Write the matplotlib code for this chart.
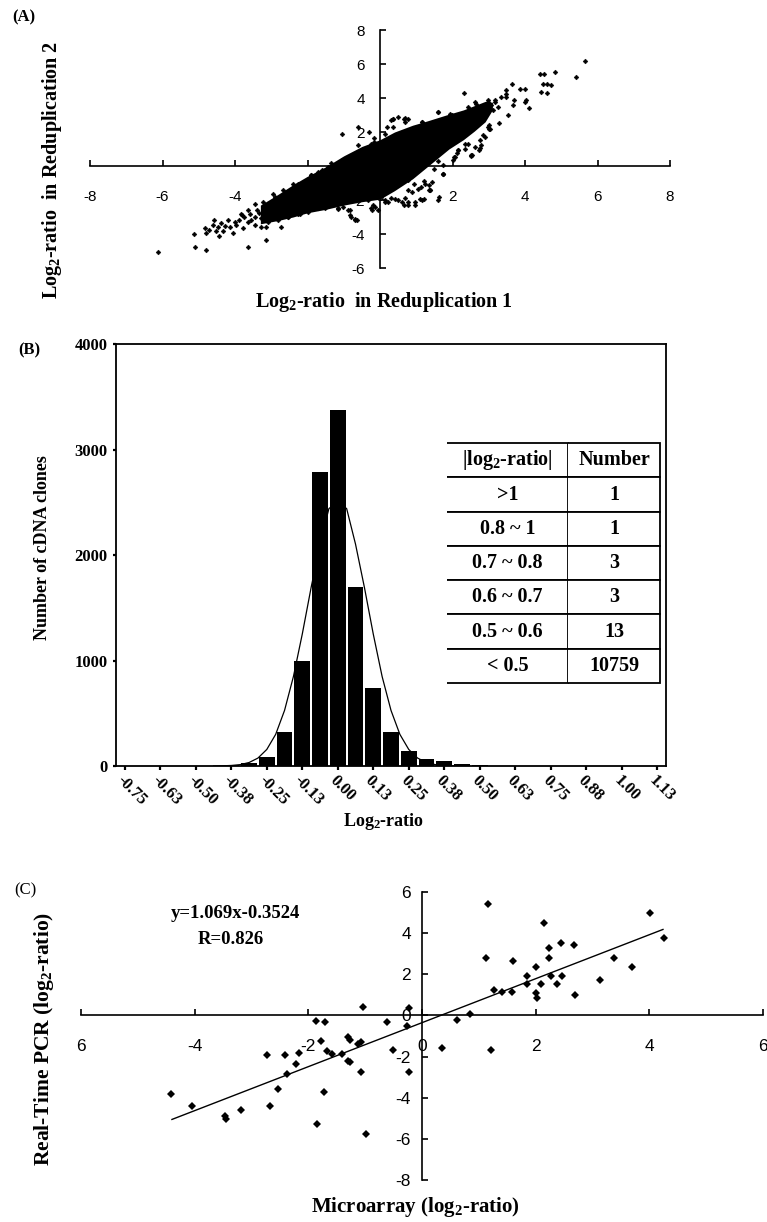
import matplotlib.pyplot as plt
from matplotlib import font_manager

# ---------------- data ----------------
# (A) replicate 1 vs replicate 2 log2-ratios
# the saturated centre of the cloud, traced as lower / upper edge
core_x = [-3.3, -2.8, -2.4, -2.0, -1.5, -1.0, -0.5, 0.0, 0.4, 0.9, 1.3, 1.9, 2.3, 2.6, 2.9, 3.1]
core_lo = [-3.4, -3.2, -3.0, -2.75, -2.55, -2.3, -2.1, -1.95, -1.45, -0.75, -0.05, 1.0, 1.55,
           2.05, 2.6, 3.3]
core_hi = [-2.3, -1.65, -1.1, -0.6, -0.05, 0.6, 1.15, 1.55, 2.0, 2.4, 2.65, 3.05, 3.3,
           3.55, 3.8, 3.75]
# the sparse points around it
rep_pts = [
    # left tail
    (-6.13, -5.04), (-5.14, -4.0), (-5.09, -4.74), (-4.80, -4.94), (-3.63, -4.74), (-3.14, -4.35),
    (-4.84, -3.67), (-4.80, -3.92), (-4.71, -3.77), (-4.61, -3.47), (-4.57, -3.18), (-4.48, -3.61),
    (-4.43, -4.12), (-4.38, -3.37), (-4.34, -3.80), (-4.27, -3.53), (-4.20, -3.18), (-4.14, -3.61),
    (-4.06, -3.96), (-3.97, -3.47), (-3.90, -3.18), (-3.83, -2.83), (-3.78, -3.67), (-3.74, -2.98),
    (-3.65, -2.59), (-3.55, -3.18), (-3.46, -2.98), (-3.39, -2.59), (-3.28, -3.08), (-3.19, -2.40),
    (-3.14, -3.57), (-3.09, -2.89), (-3.00, -2.10), (-2.96, -2.59), (-2.89, -1.81), (-2.82, -2.40),
    (-2.73, -3.57), (-2.68, -2.89), (-2.63, -2.01), (-2.54, -2.98), (-2.36, -2.69), (-2.27, -1.03),
    (-2.08, -2.59), (-1.90, -0.54), (-1.71, -2.49), (-1.53, -2.49), (-1.44, -0.05), (-1.34, 0.15),
    (-1.16, -2.49), (-1.02, -2.40), (-0.88, -2.59), (-0.79, -2.98), (-0.70, -3.18), (-0.52, -1.91),
    (-0.33, -2.01), (-0.24, -2.49), (-0.15, -2.40), (-0.06, -2.59), (0.13, -2.01), (0.31, -1.91),
    (0.50, -2.01), (0.68, -1.91), (0.77, -1.42), (0.77, -0.84), (-0.83, -2.88), (-0.69, -3.12),
    (-4.52, -3.85), (-4.0, -3.3), (-3.6, -2.85), (-3.35, -2.75), (-2.5, -2.35), (-2.2, -2.85),
    # lower edge of the core
    (-1.15, -2.51), (-1.43, -2.31), (-1.7, -2.41), (-1.98, -2.71), (-2.26, -2.8), (-2.53, -3.0),
    (-2.81, -3.2), (-3.08, -3.29), (-3.27, -3.59), (-3.45, -3.49), (-3.64, -3.29), (-3.82, -2.9),
    (-0.18, -2.31), (-0.23, -2.61), (-0.83, -2.61), (-0.64, -3.2),
    # upper edge, left of the y axis
    (-2.39, -1.04), (-2.67, -1.43), (-2.95, -1.63), (-3.22, -2.12), (-3.45, -2.22),
    (-1.89, -0.55), (-1.61, -0.25), (-1.34, -0.06), (-1.06, 0.33), (-1.7, -0.35),
    (-1.06, 1.90), (-0.6, 2.29), (-0.17, 1.65), (-0.17, 1.41), (-0.6, 1.22),
    (-0.29, 2.0), (-0.24, 1.32), (0.13, 1.90), (0.31, 2.69), (0.36, 2.30),
    (0.50, 2.88), (0.68, 2.59), (0.77, 2.78), (0.18, 2.29), (0.37, 2.75), (0.69, 2.82),
    # right of the y axis
    (5.66, 6.18), (5.40, 5.24), (4.82, 5.51), (4.40, 5.43), (4.52, 5.43), (4.49, 4.84),
    (4.60, 4.84), (4.72, 4.76), (4.45, 4.37), (4.60, 4.29), (3.65, 4.84), (3.85, 4.55),
    (3.99, 4.55), (3.48, 4.49), (3.48, 4.25), (3.48, 4.06), (3.71, 3.86), (3.66, 3.57),
    (4.03, 3.86), (3.99, 3.76), (4.10, 3.43), (2.31, 4.29), (3.53, 2.98), (3.27, 2.53),
    (3.02, 2.39), (3.02, 2.20), (2.90, 1.71), (2.79, 1.22), (2.74, 0.92), (2.51, 0.57),
    (2.35, 1.02), (2.05, 0.53), (2.0, 0.33), (1.73, -0.49), (1.36, -1.14), (1.36, -1.43),
    (1.13, -1.24), (0.95, -1.04), (1.64, -1.82), (1.09, -1.92), (0.97, -2.29), (1.15, -2.0),
    (0.65, -2.29), (0.78, -2.1), (1.61, -2.0), (1.38, -1.41), (1.75, -0.47), (0.14, -2.1),
    (0.35, 2.78), (0.67, 2.78), (1.61, 3.16), (1.92, 3.08), (1.16, 2.59), (1.50, 2.59),
    (2.65, 3.67), (2.97, 3.86), (3.16, 3.76), (3.25, 3.47), (3.34, 4.06), (2.88, 3.37),
    (2.81, 3.08), (2.61, 3.18), (2.70, 2.88), (2.42, 2.69), (2.65, 2.39), (2.51, 2.10),
    (2.24, 1.90), (2.42, 1.31), (2.15, 0.92), (2.12, 0.75), (2.53, 0.65), (2.76, 1.04),
    (3.05, 3.6), (3.12, 3.3), (2.95, 3.55), (1.2, -0.9), (1.5, -0.2), (1.6, 0.3),
    (1.15, 2.59), (1.61, 3.18), (1.98, 2.98), (2.44, 3.47), (2.62, 3.76), (2.99, 3.76),
    (3.18, 3.86), (2.81, 2.78), (2.99, 2.29), (3.04, 2.2), (2.85, 1.8), (2.76, 1.51),
    (2.62, 1.12), (2.51, 0.67), (2.35, 1.31), (2.16, 0.92), (2.07, 0.53), (1.75, 0.04),
    (1.75, -0.49), (1.43, -0.94), (1.38, -1.43), (1.2, -1.92), (0.97, -2.12), (0.78, -2.31),
    (0.6, -2.12), (0.41, -1.92), (0.23, -2.12), (0.87, -1.53), (1.06, -1.33), (1.24, -1.04),
]
rep1 = [p[0] for p in rep_pts]
rep2 = [p[1] for p in rep_pts]

# (B) histogram of log2-ratio, bins of 0.0625 from -0.75 to 1.125
counts = [0, 0, 0, 0, 0, 2, 10, 30, 85, 325, 1000, 2790, 3375, 1700, 740, 325,
          140, 65, 50, 20, 6, 3, 3, 3, 1, 1, 0, 0, 1, 0, 0]
bin_labels = ['-0.75', '-0.63', '-0.50', '-0.38', '-0.25', '-0.13', '0.00', '0.13',
              '0.25', '0.38', '0.50', '0.63', '0.75', '0.88', '1.00', '1.13']
# fitted normal curve, read at half-bin steps (bin index)
curve_bin = [5, 5.5, 6, 6.5, 7, 7.5, 8, 8.5, 9, 9.5, 10, 10.5, 11, 11.5, 12,
             12.5, 13, 13.5, 14, 14.5, 15, 15.5, 16, 16.5, 17, 17.5, 18, 18.5, 19]
curve_val = [0, 2, 5, 13, 33, 75, 157, 300, 527, 848, 1251, 1694, 2103, 2440, 2500,
             2440, 2103, 1694, 1251, 848, 527, 300, 157, 75, 33, 13, 5, 2, 0]
table_header = [r'|log$_{2}$-ratio|', 'Number']
table_rows = [['>1', '1'], ['0.8 ~ 1', '1'], ['0.7 ~ 0.8', '3'],
              ['0.6 ~ 0.7', '3'], ['0.5 ~ 0.6', '13'], ['< 0.5', '10759']]

# (C) microarray vs real-time PCR
micro = [1.17, 4.01, 2.15, 4.25, 2.44, 2.67, 2.24, 1.13, 2.24, 3.38, 1.60, 2.01, 3.69,
         1.84, 2.27, 2.47, 3.13, 1.84, 2.10, 2.38, 1.26, 1.40, 1.58, 2.01, 2.03, 2.70,
         0.84, 0.61, -0.26, -0.62, -0.23, -1.03, -1.87, -1.70, -1.78, -1.30, -1.27, -1.07,
         -1.12, -0.51, 0.35, 1.22, -1.67, -1.59, -1.40, -1.31, -1.27, -2.72, -2.41, -2.16,
         -2.22, -2.37, -1.07, -0.22, -2.53, -1.72, -4.41, -4.05, -2.67, -3.18, -3.47,
         -3.44, -1.84, -0.99]
pcr = [5.40, 5.0, 4.51, 3.75, 3.5, 3.43, 3.27, 2.81, 2.81, 2.81, 2.65, 2.33, 2.33,
       1.94, 1.94, 1.94, 1.71, 1.55, 1.55, 1.55, 1.24, 1.16, 1.16, 1.11, 0.87, 1.0,
       0.06, -0.2, -0.51, -0.34, 0.38, 0.43, -0.26, -0.31, -1.23, -1.07, -1.2, -1.31,
       -1.39, -1.68, -1.59, -1.68, -1.75, -1.88, -1.88, -2.2, -2.28, -1.91, -1.91, -1.85,
       -2.36, -2.85, -2.77, -2.77, -3.58, -3.74, -3.82, -4.42, -4.42, -4.58, -4.88,
       -5.04, -5.28, -5.77]
slope, intercept = 1.069, -0.3524
fit_x = [-4.4, 4.24]

# ---------------- style ----------------
names = {f.name for f in font_manager.fontManager.ttflist}
narrow = 'Liberation Sans Narrow' if 'Liberation Sans Narrow' in names else 'Liberation Sans'
serif = 'Liberation Serif'
plt.rcParams['font.family'] = serif
plt.rcParams['mathtext.fontset'] = 'custom'
plt.rcParams['mathtext.rm'] = 'Liberation Serif:bold'
plt.rcParams['mathtext.it'] = 'Liberation Serif:bold:italic'
plt.rcParams['mathtext.bf'] = 'Liberation Serif:bold'

W, H = 767, 1222
fig = plt.figure(figsize=(W / 100, H / 100), dpi=100)


def box(l, t, r, b):
    return [l / W, 1 - b / H, (r - l) / W, (b - t) / H]


def ftext(x, y, s, **kw):
    fig.text(x / W, 1 - y / H, s, ha='center', va='center', **kw)


def cross_axes(ax):
    ax.spines['left'].set_position(('data', 0))
    ax.spines['bottom'].set_position(('data', 0))
    ax.spines['top'].set_visible(False)
    ax.spines['right'].set_visible(False)
    for s in ('left', 'bottom'):
        ax.spines[s].set_linewidth(1.2)
        ax.spines[s].set_zorder(1)
    ax.set_axisbelow(True)
    ax.patch.set_visible(False)


# ---------------- (A) ----------------
axA = fig.add_axes(box(90, 30, 670, 268))
cross_axes(axA)
axA.fill_between(core_x, core_lo, core_hi, color='black', lw=0, zorder=3)
axA.plot(rep1, rep2, 'D', color='black', ms=2.4, mew=0.4, zorder=3)
axA.set_xlim(-8, 8)
axA.set_ylim(-6, 8)
axA.set_xticks(range(-8, 9, 2))
axA.set_xticklabels([str(v) for v in range(-8, 9, 2)])
axA.set_yticks(range(-6, 9, 2))
axA.set_yticklabels([str(v) for v in range(-6, 9, 2)])
axA.tick_params(axis='x', direction='in', length=4, width=1.2, pad=17)
axA.tick_params(axis='y', direction='in', length=4, width=1.2, pad=11)
for lab in axA.get_xticklabels() + axA.get_yticklabels():
    lab.set_fontfamily(narrow)
    lab.set_fontsize(11)

ftext(24, 17, '(A)', fontsize=12, fontweight='bold')
ftext(52, 170, r'Log$_{2}$-ratio  in Reduplication 2', rotation=90,
      fontsize=14.5, fontweight='bold')
ftext(384, 302, r'Log$_{2}$-ratio  in Reduplication 1', fontsize=14.5, fontweight='bold')

# ---------------- (B) ----------------
axB = fig.add_axes(box(116, 344, 666, 766))
axB.bar(range(len(counts)), counts, width=0.88, color='black', zorder=2)
axB.plot(curve_bin, curve_val, color='black', lw=0.9, zorder=3)
axB.set_xlim(-0.5, len(counts) - 0.5)
axB.set_ylim(0, 4000)
axB.set_yticks(range(0, 4001, 1000))
axB.set_xticks(range(0, len(counts), 2))
axB.set_xticklabels(bin_labels, rotation=-45, ha='left', va='top', rotation_mode='anchor')
axB.tick_params(axis='x', direction='out', length=3, width=1.6, pad=2, labelsize=12)
axB.tick_params(axis='y', direction='out', length=2, width=1.6, pad=4, labelsize=12)
for lab in axB.get_xticklabels() + axB.get_yticklabels():
    lab.set_fontweight('bold')
for s in axB.spines.values():
    s.set_linewidth(1.3)

tb = axB.table(cellText=table_rows, colLabels=table_header, cellLoc='center',
               colWidths=[0.568, 0.432], bbox=[0.602, 0.197, 0.387, 0.568])
tb.auto_set_font_size(False)
tb.set_zorder(5)
for cell in tb.get_celld().values():
    cell.visible_edges = 'TBR'
    cell.set_linewidth(1.3)
    cell.set_edgecolor('black')
    cell.set_facecolor('white')
    cell.get_text().set_fontsize(14.5)
    cell.get_text().set_fontweight('bold')

ftext(29, 350, '(B)', fontsize=12, fontweight='bold')
ftext(43, 548, 'Number of cDNA clones', rotation=90, fontsize=13, fontweight='bold')
ftext(384, 822, r'Log$_{2}$-ratio', fontsize=13, fontweight='bold')

# ---------------- (C) ----------------
axC = fig.add_axes(box(81, 892, 763, 1180))
cross_axes(axC)
axC.plot(micro, pcr, 'D', color='black', ms=4.2, mew=0, zorder=3)
axC.plot(fit_x, [slope * v + intercept for v in fit_x], color='black', lw=1.0, zorder=3)
axC.set_xlim(-6, 6)
axC.set_ylim(-8, 6)
axC.set_xticks(range(-6, 7, 2))
axC.set_xticklabels(['6', '-4', '-2', '0', '2', '4', '6'])
axC.set_yticks(range(-8, 7, 2))
axC.set_yticklabels([str(v) for v in range(-8, 7, 2)])
axC.tick_params(axis='x', direction='in', length=4, width=1.2, pad=17)
axC.tick_params(axis='y', direction='in', length=4, width=1.2, pad=8)
for lab in axC.get_xticklabels() + axC.get_yticklabels():
    lab.set_fontfamily(narrow)
    lab.set_fontsize(12.5)

ftext(25, 890, '(C)', fontsize=12)
ftext(235, 914, 'y=1.069x-0.3524', fontsize=13.5, fontweight='bold')
ftext(231, 940, 'R=0.826', fontsize=13.5, fontweight='bold')
ftext(44, 1039, r'Real-Time PCR (log$_{2}$-ratio)', rotation=90, fontsize=15.5,
      fontweight='bold')
ftext(415, 1207, r'Microarray (log$_{2}$-ratio)', fontsize=15, fontweight='bold')

fig.savefig('out.png', dpi=100)
